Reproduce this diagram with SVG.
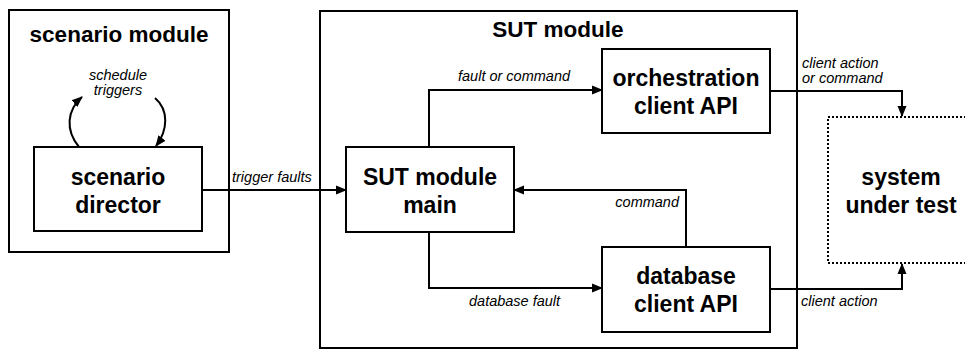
<svg xmlns="http://www.w3.org/2000/svg" width="965" height="351" viewBox="0 0 965 351">
  <style>
    .box { fill: #ffffff; stroke: #000000; stroke-width: 2; }
    .frame { fill: none; stroke: #000000; stroke-width: 2; }
    .dotted { fill: none; stroke: #000000; stroke-width: 2; stroke-dasharray: 2 2; }
    .title { font-family: "Liberation Sans", Arial, sans-serif; font-weight: bold; font-size: 22.5px; fill: #000000; text-anchor: middle; }
    .node { font-family: "Liberation Sans", Arial, sans-serif; font-weight: bold; font-size: 23px; fill: #000000; text-anchor: middle; }
    .lbl { font-family: "Liberation Sans", Arial, sans-serif; font-style: italic; font-size: 14.5px; fill: #000000; }
    .wire { fill: none; stroke: #000000; stroke-width: 2; marker-end: url(#arrow); }
  </style>
  <defs>
    <marker id="arrow" markerUnits="userSpaceOnUse" markerWidth="11" markerHeight="10" refX="10" refY="5" orient="auto">
      <path d="M0,0.5 L11,5 L0,9.5 z" fill="#000000"/>
    </marker>
  </defs>
  <rect width="965" height="351" fill="#ffffff"/>

  <!-- container modules -->
  <g id="scenario-module">
    <rect class="frame" x="9" y="10" width="220" height="242"/>
    <text class="title" x="119" y="42">scenario module</text>
  </g>
  <g id="sut-module">
    <rect class="frame" x="320" y="11" width="477" height="337"/>
    <text class="title" x="558" y="37">SUT module</text>
  </g>

  <!-- nodes -->
  <g id="scenario-director">
    <rect class="box" x="34" y="147" width="168" height="84"/>
    <text class="node" x="118" y="185">scenario</text>
    <text class="node" x="118" y="213">director</text>
  </g>
  <g id="sut-main">
    <rect class="box" x="346" y="147" width="168" height="85"/>
    <text class="node" x="430" y="185">SUT module</text>
    <text class="node" x="430" y="213">main</text>
  </g>
  <g id="orchestration-api">
    <rect class="box" x="602" y="49" width="168" height="84"/>
    <text class="node" x="686" y="86">orchestration</text>
    <text class="node" x="686" y="114">client API</text>
  </g>
  <g id="database-api">
    <rect class="box" x="602" y="247" width="168" height="85"/>
    <text class="node" x="686" y="284">database</text>
    <text class="node" x="686" y="312">client API</text>
  </g>
  <g id="system-under-test">
    <rect class="dotted" x="828" y="117" width="150" height="146"/>
    <text class="node" x="901" y="185">system</text>
    <text class="node" x="901" y="213">under test</text>
  </g>

  <!-- connectors -->
  <g id="connectors">
    <path class="wire" d="M79,147 C65,130 67,110 82,97"/>
    <path class="wire" d="M155,98 C169,110 168,130 156,146"/>
    <path class="wire" d="M202,190 L346,190"/>
    <path class="wire" d="M429,147 L429,90 L602,90"/>
    <path class="wire" d="M429,232 L429,288 L602,288"/>
    <path class="wire" d="M686,247 L686,190 L514,190"/>
    <path class="wire" d="M770,91 L902,91 L902,116"/>
    <path class="wire" d="M770,289 L902,289 L902,264"/>
  </g>

  <!-- connector labels -->
  <g id="labels">
    <text class="lbl" x="118" y="80" text-anchor="middle">schedule</text>
    <text class="lbl" x="118" y="95" text-anchor="middle">triggers</text>
    <text class="lbl" x="232" y="182">trigger faults</text>
    <text class="lbl" x="458" y="81">fault or command</text>
    <text class="lbl" x="469" y="306">database fault</text>
    <text class="lbl" x="679" y="207" text-anchor="end">command</text>
    <text class="lbl" x="802" y="68">client action</text>
    <text class="lbl" x="802" y="83">or command</text>
    <text class="lbl" x="801" y="306">client action</text>
  </g>
</svg>
